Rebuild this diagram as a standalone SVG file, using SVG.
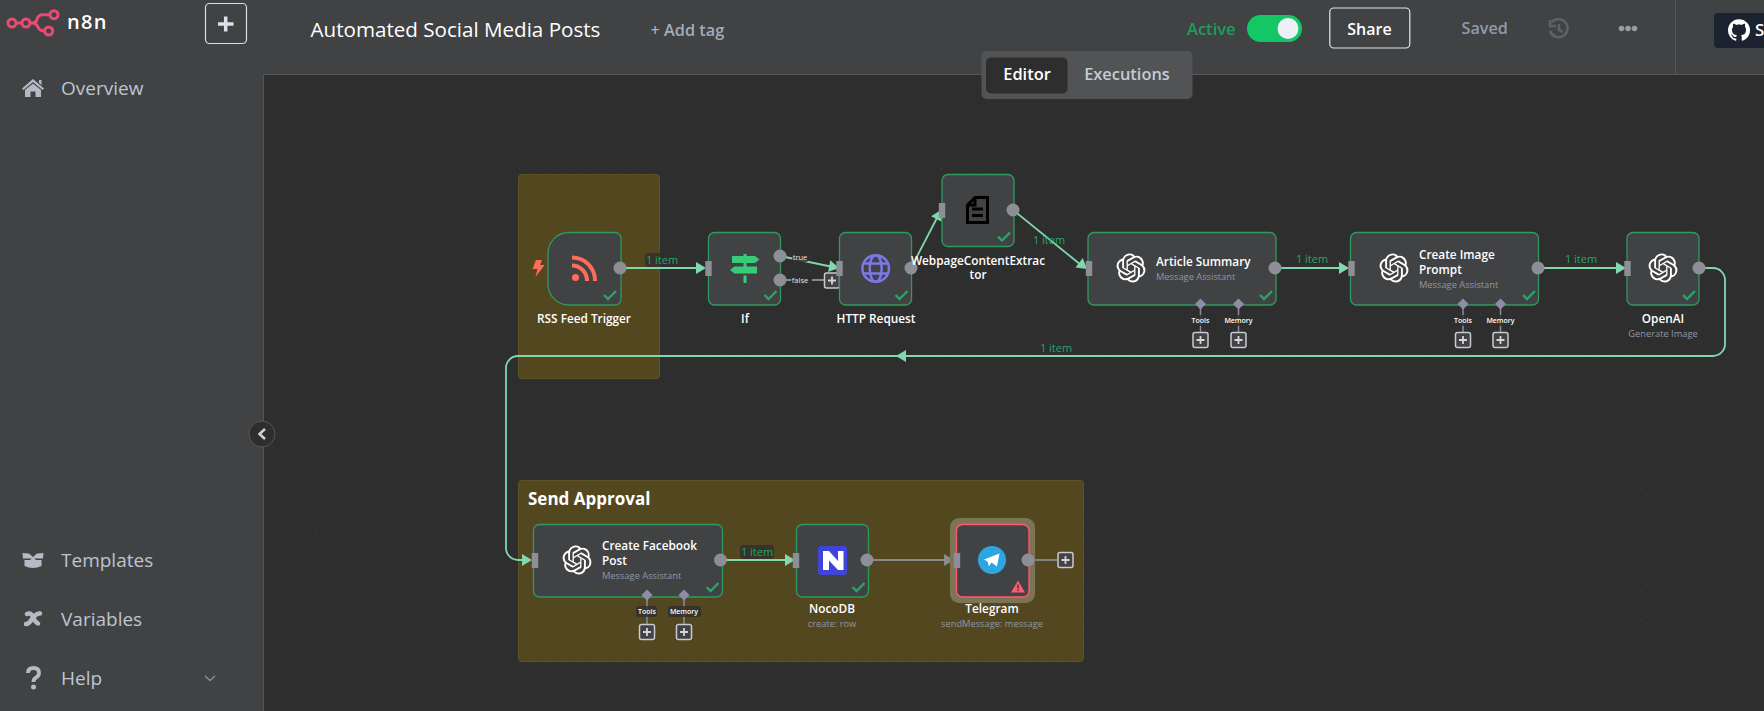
<svg xmlns="http://www.w3.org/2000/svg" xmlns:xlink="http://www.w3.org/1999/xlink" width="1764" height="711" viewBox="0 0 1764 711">
<style>
text{font-family:"Open Sans","Noto Sans","Liberation Sans",sans-serif}
.node{fill:#414244;stroke:#2f9a5f;stroke-width:1.3}
.title{fill:#fff;font-size:11.8px;font-weight:600}
.mid{text-anchor:middle}
.sub{fill:#8f97a5;font-size:9.3px}
.edge{fill:none;stroke:#80d8ad;stroke-width:1.8}
.gray{fill:none;stroke:#8a8a8a;stroke-width:1.8}
.sup{fill:none;stroke:#8a8a9a;stroke-width:1.5}
.item{fill:#29a568;font-size:11px;text-anchor:middle}
.pill{fill:#2e2e2e;opacity:.8}
.port{fill:#8e8f96}
.inp{fill:#8e8f96}
.chk{fill:none;stroke:#29a568;stroke-width:2.4}
.tiny{fill:#fff;font-size:7px;font-weight:600;text-anchor:middle}
.tiny2{fill:#e6e6e6;font-size:7.5px;text-anchor:middle}
.nav{fill:#bcc5d2;font-size:19px}
.navi{fill:#b5bac4}
.sticky{fill:#53471f;stroke:#5e5228}
.ai{fill:#fff}
.dia{fill:#8d8da6}
.plusbox{fill:#414244;stroke:#c9c9d0;stroke-width:1.5}
.plusx{stroke:#d5d5da;stroke-width:1.8;fill:none}
</style>
<defs>
<pattern id="grid" width="14.56" height="14.56" patternUnits="userSpaceOnUse" x="2.5" y="8.5"><rect x="7" y="-0.3" width="1" height="1" fill="#444"/><rect x="7" y="14.26" width="1" height="1" fill="#444"/></pattern>
<path id="arrow" d="M-10-6 L0 0 L-10 6Z"/>
<path id="check" class="chk" d="M-6 0 L-2 4 L6-4"/>
<rect id="inport" class="inp" x="-3.200" y="-7.500" width="6.400" height="15"/>
<circle id="outport" class="port" r="6.500"/>
<g id="plus"><rect class="plusbox" x="-7.500" y="-7.500" width="15" height="15" rx="2"/><path class="plusx" d="M-4 0H4M0-4V4"/></g>
<path id="diamond" class="dia" d="M0-5.500L5.500 0L0 5.500L-5.500 0Z"/>
<path id="openai" class="ai" transform="translate(-14.500,-14.500) scale(1.208)" d="M22.2819 9.8211a5.9847 5.9847 0 0 0-.5157-4.9108 6.0462 6.0462 0 0 0-6.5098-2.9A6.0651 6.0651 0 0 0 4.9807 4.1818a5.9847 5.9847 0 0 0-3.9977 2.9 6.0462 6.0462 0 0 0 .7427 7.0966 5.98 5.98 0 0 0 .511 4.9107 6.051 6.051 0 0 0 6.5146 2.9001A5.9847 5.9847 0 0 0 13.2599 24a6.0557 6.0557 0 0 0 5.7718-4.2058 5.9894 5.9894 0 0 0 3.9977-2.9001 6.0557 6.0557 0 0 0-.7475-7.0729zm-9.022 12.6081a4.4755 4.4755 0 0 1-2.8764-1.0408l.1419-.0804 4.7783-2.7582a.7948.7948 0 0 0 .3927-.6813v-6.7369l2.02 1.1686a.071.071 0 0 1 .038.052v5.5826a4.504 4.504 0 0 1-4.4945 4.4944zm-9.6607-4.1254a4.4708 4.4708 0 0 1-.5346-3.0137l.142.0852 4.783 2.7582a.7712.7712 0 0 0 .7806 0l5.8428-3.3685v2.3324a.0804.0804 0 0 1-.0332.0615L9.74 19.9502a4.4992 4.4992 0 0 1-6.1408-1.6464zM2.3408 7.8956a4.485 4.485 0 0 1 2.3655-1.9728V11.6a.7664.7664 0 0 0 .3879.6765l5.8144 3.3543-2.0201 1.1685a.0757.0757 0 0 1-.071 0l-4.8303-2.7865A4.504 4.504 0 0 1 2.3408 7.872zm16.5963 3.8558L13.1038 8.364 15.1192 7.2a.0757.0757 0 0 1 .071 0l4.8303 2.7913a4.4944 4.4944 0 0 1-.6765 8.1042v-5.6772a.79.79 0 0 0-.407-.667zm2.0107-3.0231l-.142-.0852-4.7735-2.7818a.7759.7759 0 0 0-.7854 0L9.409 9.2297V6.8974a.0662.0662 0 0 1 .0284-.0615l4.8303-2.7866a4.4992 4.4992 0 0 1 6.6802 4.66zM8.3065 12.863l-2.02-1.1638a.0804.0804 0 0 1-.038-.0567V6.0742a4.4992 4.4992 0 0 1 7.3757-3.4537l-.142.0805L8.704 5.459a.7948.7948 0 0 0-.3927.6813zm1.0976-2.3654l2.602-1.4998 2.6069 1.4998v2.9994l-2.5974 1.4997-2.6067-1.4997Z"/>
</defs>

<rect width="1764" height="711" fill="#2e2e2e"/>
<rect x="263" y="74" width="1501" height="637" fill="url(#grid)"/>

<g id="sticky-rss"><rect class="sticky" x="518.500" y="174.500" width="141" height="204" rx="3"/></g>
<g id="sticky-approval"><rect class="sticky" x="518.500" y="480.500" width="565" height="181" rx="3"/>
<text x="528" y="505" fill="#fff" font-size="17" font-weight="700">Send Approval</text></g>

<g id="connectors">
<path class="edge" d="M620 268H700"/><use xlink:href="#arrow" x="706" y="268" fill="#80d8ad"/>
<path class="edge" d="M785 257L833 267"/><use xlink:href="#arrow" transform="translate(839,268) rotate(11)" fill="#80d8ad"/>
<path class="gray" d="M786 280H792M812 280H824"/>
<path class="edge" d="M911 268L938 216"/><use xlink:href="#arrow" transform="translate(941,210) rotate(-63)" fill="#80d8ad"/>
<path class="edge" d="M1013 210L1081 265"/><use xlink:href="#arrow" transform="translate(1087,269) rotate(38)" fill="#80d8ad"/>
<path class="edge" d="M1275 268H1343"/><use xlink:href="#arrow" x="1349" y="268" fill="#80d8ad"/>
<path class="edge" d="M1538 268H1620"/><use xlink:href="#arrow" x="1626" y="268" fill="#80d8ad"/>
<path class="edge" d="M1699 268H1713A12 12 0 0 1 1725 280V344A12 12 0 0 1 1713 356H518A12 12 0 0 0 506 368V548A12 12 0 0 0 518 560H526"/>
<use xlink:href="#arrow" transform="translate(896,356) rotate(180)" fill="#80d8ad"/>
<use xlink:href="#arrow" x="532" y="560" fill="#80d8ad"/>
<path class="edge" d="M720 560H790"/><use xlink:href="#arrow" x="795" y="560" fill="#80d8ad"/>
<path class="gray" d="M867 560H948"/><use xlink:href="#arrow" x="954" y="560" fill="#8a8a8a"/>
<path class="gray" d="M1029 560H1057"/>
<path class="sup" d="M1200.500 304V332M1238.500 304V332M1463 304V332M1500.500 304V332M647 595V624M684 595V624"/>
<rect class="pill" x="645" y="253" width="34" height="14" rx="3"/><text class="item" x="662" y="264">1 item</text>
<rect class="pill" x="740" y="545" width="34" height="14" rx="3"/><text class="item" x="757" y="556">1 item</text>
<text class="item" x="1049" y="244">1 item</text>
<text class="item" x="1312" y="263">1 item</text>
<text class="item" x="1581" y="263">1 item</text>
<text class="item" x="1056" y="352">1 item</text>
<rect class="pill" x="792" y="252" width="16" height="10" rx="2"/><text class="tiny2" x="800" y="259.500">true</text>
<rect class="pill" x="791" y="275" width="18" height="10" rx="2"/><text class="tiny2" x="800" y="282.500">false</text>
<use xlink:href="#plus" x="832" y="280.500"/>
</g>

<g id="node-rss"><path class="node" d="M569 232.500H615A6 6 0 0 1 621 238.500V299A6 6 0 0 1 615 305H569A21 21 0 0 1 548 284V253.500A21 21 0 0 1 569 232.500Z"/>
<path fill="#ff6d5a" d="M536 260H542L540 265H544.500L535.500 277L537.500 269H532.500Z"/>
<circle cx="575.500" cy="277.500" r="3.500" fill="#ff6d5a"/>
<path d="M572 265.500A15 15 0 0 1 587 281M572 257.500A23 23 0 0 1 595 281" fill="none" stroke="#ff6d5a" stroke-width="4"/>
<use xlink:href="#outport" x="620" y="268"/><use xlink:href="#check" x="610" y="295"/>
<text class="title mid" x="584" y="323">RSS Feed Trigger</text></g>

<g id="node-if"><rect class="node" x="708.500" y="232.500" width="72" height="72.500" rx="6"/>
<path fill="#38cb7a" d="M732 256H755L759.500 259.500L755 263H732ZM734.500 266.500H757V273.500H734.500L730 270ZM743.500 254H746.500V256H743.500ZM743.500 263H746.500V266.500H743.500ZM743.500 275.500H746.500V283H743.500Z"/>
<use xlink:href="#inport" x="708.500" y="268.500"/><use xlink:href="#outport" x="780" y="256"/><use xlink:href="#outport" x="780" y="280"/><use xlink:href="#check" x="770.500" y="295"/>
<text class="title mid" x="745" y="323">If</text></g>

<g id="node-http"><rect class="node" x="839.500" y="232.500" width="72" height="72.500" rx="6"/>
<g fill="none" stroke="#7d78e8" stroke-width="2.500"><circle cx="875.700" cy="268.500" r="13.300"/><ellipse cx="875.700" cy="268.500" rx="6" ry="13.300"/><path d="M863.500 263.500H888M863.500 273.500H888"/></g>
<use xlink:href="#inport" x="839.500" y="268.500"/><use xlink:href="#outport" x="911" y="268"/><use xlink:href="#check" x="901.500" y="295"/>
<text class="title mid" x="876" y="323">HTTP Request</text></g>

<g id="node-extractor"><rect class="node" x="942" y="174.500" width="72" height="72" rx="6"/>
<path fill="none" stroke="#000" stroke-width="3" d="M975 197.500H987.500V222.500H967.500V205ZM975 197.500V205H967.500M972 209H983M972 215.500H983"/>
<use xlink:href="#inport" x="942" y="210.500"/><use xlink:href="#outport" x="1013" y="210"/><use xlink:href="#check" x="1004" y="236.500"/>
<text class="title mid" x="978" y="265">WebpageContentExtrac</text><text class="title mid" x="978" y="279">tor</text></g>

<g id="node-article"><rect class="node" x="1088" y="232.500" width="188" height="72.500" rx="6"/>
<use xlink:href="#openai" x="1131" y="268"/>
<use xlink:href="#inport" x="1089" y="268.500"/><use xlink:href="#outport" x="1275" y="268"/><use xlink:href="#check" x="1266" y="295"/>
<use xlink:href="#diamond" x="1200.500" y="304"/><use xlink:href="#diamond" x="1238.500" y="304"/>
<text class="title" x="1156" y="266">Article Summary</text><text class="sub" x="1156" y="279.500">Message Assistant</text>
<rect class="pill" x="1190" y="315" width="21" height="11" rx="3"/><text class="tiny" x="1200.500" y="323">Tools</text>
<rect class="pill" x="1222" y="315" width="33" height="11" rx="3"/><text class="tiny" x="1238.500" y="323">Memory</text>
<use xlink:href="#plus" x="1200.500" y="340"/><use xlink:href="#plus" x="1238.500" y="340"/></g>

<g id="node-prompt"><rect class="node" x="1350.500" y="232.500" width="188" height="72.500" rx="6"/>
<use xlink:href="#openai" x="1394" y="268"/>
<use xlink:href="#inport" x="1351.500" y="268.500"/><use xlink:href="#outport" x="1538" y="268"/><use xlink:href="#check" x="1529" y="295"/>
<use xlink:href="#diamond" x="1463" y="304"/><use xlink:href="#diamond" x="1500.500" y="304"/>
<text class="title" x="1419" y="259">Create Image</text><text class="title" x="1419" y="274">Prompt</text><text class="sub" x="1419" y="287.500">Message Assistant</text>
<rect class="pill" x="1452.500" y="315" width="21" height="11" rx="3"/><text class="tiny" x="1463" y="323">Tools</text>
<rect class="pill" x="1484" y="315" width="33" height="11" rx="3"/><text class="tiny" x="1500.500" y="323">Memory</text>
<use xlink:href="#plus" x="1463" y="340"/><use xlink:href="#plus" x="1500.500" y="340"/></g>

<g id="node-openai"><rect class="node" x="1627" y="232.500" width="72" height="72.500" rx="6"/>
<use xlink:href="#openai" x="1663" y="268"/>
<use xlink:href="#inport" x="1627.500" y="268.500"/><use xlink:href="#outport" x="1699" y="268"/><use xlink:href="#check" x="1689" y="295"/>
<text class="title mid" x="1663" y="323">OpenAI</text><text class="sub mid" x="1663" y="336.500">Generate Image</text></g>

<g id="node-facebook"><rect class="node" x="533.500" y="524.500" width="189" height="72.500" rx="6"/>
<use xlink:href="#openai" x="577" y="560"/>
<use xlink:href="#inport" x="535" y="560.500"/><use xlink:href="#outport" x="720.500" y="560"/><use xlink:href="#check" x="712.500" y="587"/>
<use xlink:href="#diamond" x="647" y="595"/><use xlink:href="#diamond" x="684" y="595"/>
<text class="title" x="602" y="550">Create Facebook</text><text class="title" x="602" y="565">Post</text><text class="sub" x="602" y="579">Message Assistant</text>
<rect class="pill" x="636" y="606" width="21" height="11" rx="3"/><text class="tiny" x="647" y="614">Tools</text>
<rect class="pill" x="668" y="606" width="33" height="11" rx="3"/><text class="tiny" x="684" y="614">Memory</text>
<use xlink:href="#plus" x="647" y="632"/><use xlink:href="#plus" x="684" y="632"/></g>

<g id="node-nocodb"><rect class="node" x="796.500" y="524.500" width="72" height="72.500" rx="6"/>
<rect x="818" y="546" width="29" height="29" rx="3" fill="#3f45d8"/>
<path fill="#fff" d="M823 551H829L838 561V551H843.500V570H838L829 560.500V570H823Z"/>
<use xlink:href="#inport" x="796" y="560.500"/><use xlink:href="#outport" x="867" y="560"/><use xlink:href="#check" x="858.500" y="587"/>
<text class="title mid" x="832" y="613">NocoDB</text><text class="sub mid" x="832" y="626.500">create: row</text></g>

<g id="node-telegram"><rect x="950" y="518" width="85" height="85" rx="9" fill="#7d7355"/>
<rect x="956.500" y="524.500" width="72.500" height="72.500" rx="6" fill="#414244" stroke="#ff5a6e" stroke-width="1.300"/>
<circle cx="992" cy="560" r="14" fill="#2ca5e0"/>
<path fill="#fff" d="M984 559.500L999.500 553.500L997 566.500L991.500 562.500L989 566.500L987.500 561.500Z"/>
<path fill="#ff5a6e" d="M1018 580.500L1025 592.500H1011Z"/><path fill="#414244" d="M1017.200 584.500H1018.800V588.500H1017.200ZM1017.200 589.500H1018.800V591H1017.200Z"/>
<use xlink:href="#inport" x="957" y="560.500"/><use xlink:href="#outport" x="1028" y="560"/>
<use xlink:href="#plus" x="1065.500" y="560"/>
<text class="title mid" x="992" y="613">Telegram</text><text class="sub mid" x="992" y="626.500">sendMessage: message</text></g>

<g id="sidebar"><rect width="263" height="711" fill="#414244"/><path d="M263.500 0V711" stroke="#555657"/>
<g fill="none" stroke="#ea4b71" stroke-width="3"><circle cx="12" cy="23" r="4"/><circle cx="26" cy="23" r="4"/><circle cx="54" cy="14.700" r="4"/><circle cx="48.700" cy="31" r="4"/><path d="M16 23H22M30 23H33Q36 23 37 19.500Q38 15 42 14.700H50M33 23Q36 23 38 27Q39.500 31 44.700 31"/></g>
<text x="67" y="29" fill="#fff" font-size="20" font-weight="600" letter-spacing="1.300">n8n</text>
<rect x="205.500" y="3.500" width="41" height="40" rx="4" fill="none" stroke="#dcdcdc" stroke-width="1.200"/><path d="M218 24H233.500M225.700 16.500V31.500" stroke="#dcdfe6" stroke-width="3.500" fill="none"/>
<path class="navi" d="M33 79L44 88.500L42.500 90L33 82L23.500 90L22 88.500ZM25 90L33 83.500L41 90V97H35.500V91.500H30.500V97H25ZM39 80H41.500V85L39 83Z"/>
<text class="nav" x="61" y="94.500">Overview</text>
<path class="navi" d="M22.500 553L29 553.500L33 557L37 553.500L43.500 553L43 558.500H23ZM24.500 560L30 560L33 557.500L36 560L41.500 560V566Q33 570 24.500 566Z"/>
<text class="nav" x="61" y="566.500">Templates</text>
<path d="M27 614Q31 612 33 617Q35 622 38 623.500M40 613.500Q36 613 32 619Q29 624 26 624" fill="none" stroke="#b5bac4" stroke-width="4.500" stroke-linecap="round"/>
<text class="nav" x="61" y="625.500">Variables</text>
<path d="M28 673Q28 668 33.500 668Q39 668 39 673Q39 676 35.500 678Q33.500 679 33.500 682" fill="none" stroke="#b5bac4" stroke-width="3.800"/><circle cx="33.500" cy="687" r="2.500" class="navi"/>
<text class="nav" x="61" y="684.500">Help</text>
<path d="M205 676L210 680.500L215 676" fill="none" stroke="#8a8d94" stroke-width="1.500"/>
</g>

<g id="header"><rect x="263" width="1501" height="74" fill="#414244"/><path d="M263 74.500H1764" stroke="#565758"/><path d="M1675.500 0V74" stroke="#565758"/>
<text x="310.500" y="37" fill="#fff" font-size="20.600">Automated Social Media Posts</text>
<text x="650.500" y="36" fill="#a4acb9" font-size="16.300" font-weight="600">+ Add tag</text>
<text x="1187" y="35" fill="#1f9c5c" font-size="16.500" font-weight="600">Active</text>
<rect x="1247" y="15" width="55" height="27" rx="13.500" fill="#13c864"/><circle cx="1288" cy="28.500" r="10.500" fill="#eef0f8"/>
<rect x="1329.800" y="8" width="80" height="40" rx="4" fill="none" stroke="#e4e4e6" stroke-width="1.200"/>
<text x="1369.500" y="34.500" fill="#fff" font-size="16" font-weight="600" text-anchor="middle">Share</text>
<text x="1461.500" y="34" fill="#8f9bad" font-size="16.200" font-weight="600">Saved</text>
<path d="M1552 22A9 9 0 1 1 1550 31M1550 20V26H1556M1559 24V30L1563 32" fill="none" stroke="#5f6063" stroke-width="2.600"/>
<circle cx="1621.500" cy="28.500" r="2.800" fill="#9a9ba0"/><circle cx="1628" cy="28.500" r="2.800" fill="#9a9ba0"/><circle cx="1634.500" cy="28.500" r="2.800" fill="#9a9ba0"/>
<path d="M1718 13H1764V48H1718A4 4 0 0 1 1714 44V17A4 4 0 0 1 1718 13Z" fill="#1b2230"/>
<path fill="#fff" transform="translate(1728,19) scale(.92)" d="M12 .297c-6.630 0-12 5.373-12 12 0 5.303 3.438 9.800 8.205 11.385.6.113.82-.258.82-.577 0-.285-.01-1.040-.015-2.040-3.338.724-4.042-1.610-4.042-1.610C4.422 18.070 3.633 17.700 3.633 17.700c-1.087-.744.084-.729.084-.729 1.205.084 1.838 1.236 1.838 1.236 1.070 1.835 2.809 1.305 3.495.998.108-.776.417-1.305.76-1.605-2.665-.3-5.466-1.332-5.466-5.930 0-1.310.465-2.380 1.235-3.220-.135-.303-.54-1.523.105-3.176 0 0 1.005-.322 3.300 1.230.96-.267 1.980-.399 3-.405 1.020.006 2.040.138 3 .405 2.280-1.552 3.285-1.230 3.285-1.230.645 1.653.24 2.873.12 3.176.765.84 1.230 1.910 1.230 3.220 0 4.610-2.805 5.625-5.475 5.920.42.36.81 1.096.81 2.220 0 1.606-.015 2.896-.015 3.286 0 .315.21.69.825.57C20.565 22.092 24 17.592 24 12.297c0-6.627-5.373-12-12-12"/>
<text x="1755" y="36" fill="#fff" font-size="17" font-weight="600">S</text>
<rect x="981.500" y="51" width="211" height="48" rx="5" fill="#525355"/>
<rect x="986" y="57.500" width="81.500" height="36" rx="5" fill="#2e2e2e"/>
<text x="1027" y="80" fill="#fff" font-size="16.400" font-weight="600" text-anchor="middle">Editor</text>
<text x="1127" y="80" fill="#c5cbd6" font-size="16.400" font-weight="600" text-anchor="middle">Executions</text>
</g>
<g id="collapse"><circle cx="262" cy="434" r="13" fill="#2e2e2e" stroke="#555657"/><path d="M265 429L259.500 434L265 439" fill="none" stroke="#cfd2da" stroke-width="2.500"/></g>
</svg>
